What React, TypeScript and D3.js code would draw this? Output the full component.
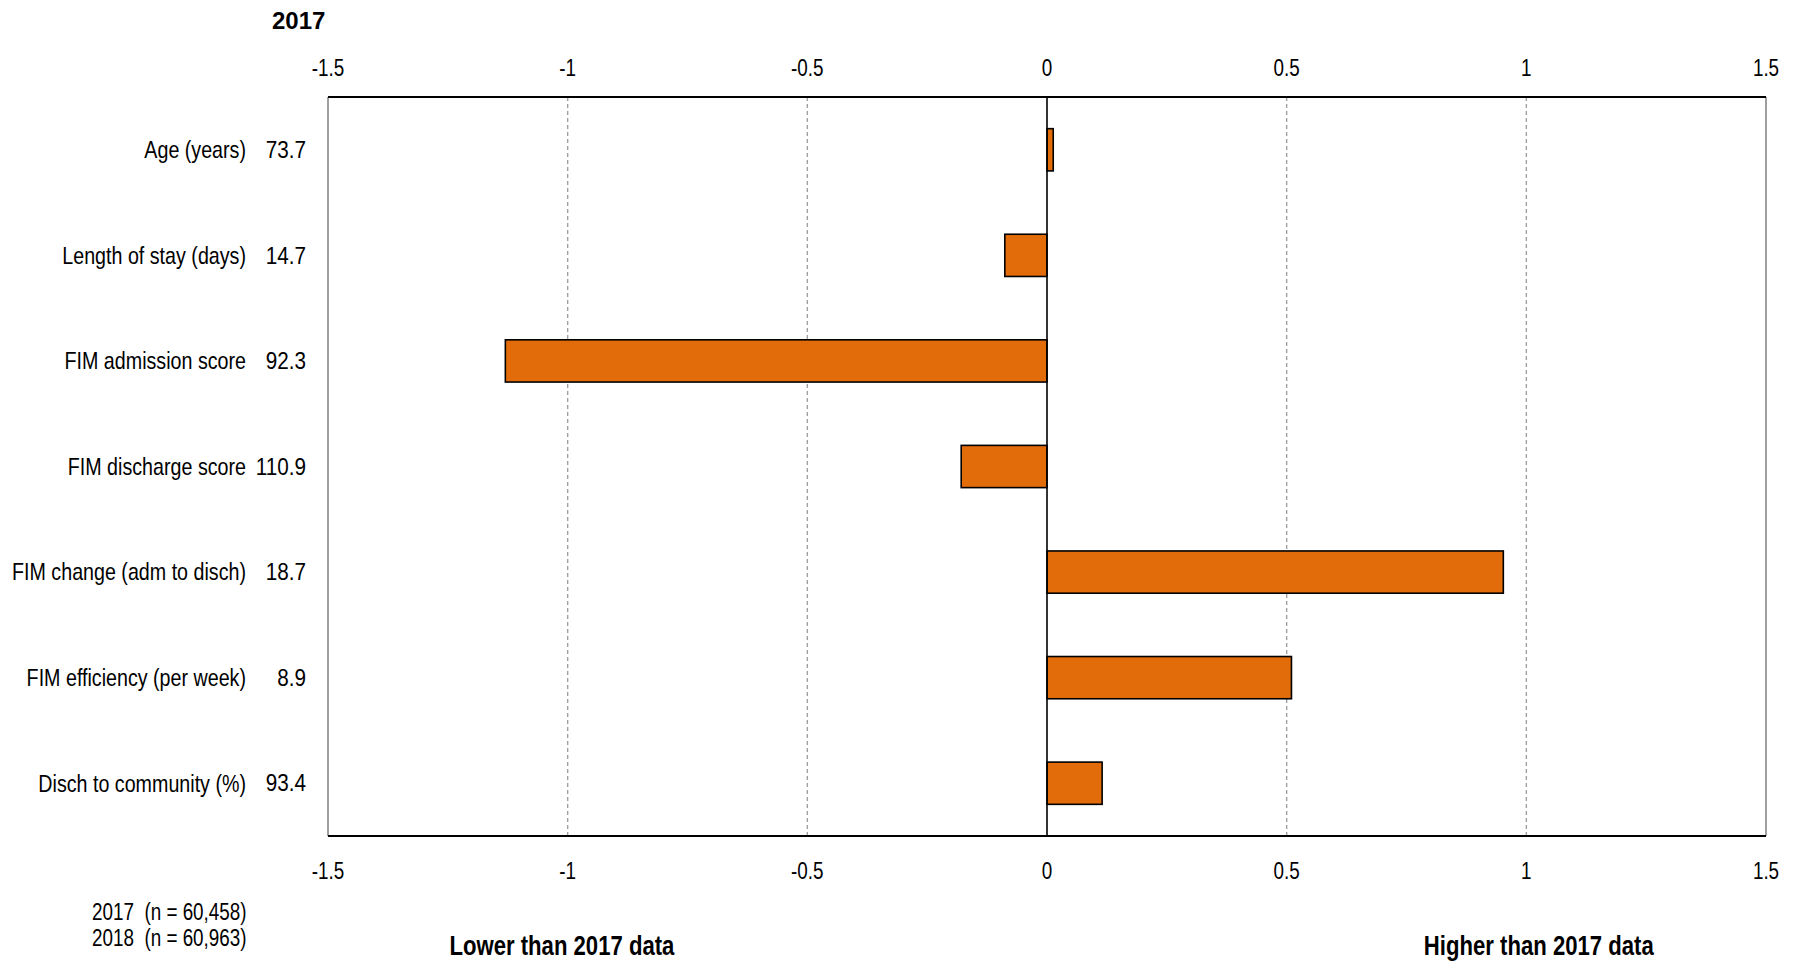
import React from "react";
import * as d3 from "d3";

const categories = [
  "Age (years)",
  "Length of stay (days)",
  "FIM admission score",
  "FIM discharge score",
  "FIM change (adm to disch)",
  "FIM efficiency (per week)",
  "Disch to community (%)",
];
const baseValues = ["73.7", "14.7", "92.3", "110.9", "18.7", "8.9", "93.4"];
const differences = [0.013, -0.088, -1.13, -0.179, 0.952, 0.51, 0.115];
const xTicks = [-1.5, -1, -0.5, 0, 0.5, 1, 1.5];
const sampleNotes = ["2017\u00A0\u00A0(n = 60,458)", "2018\u00A0\u00A0(n = 60,963)"];

const W = 1806;
const H = 966;
const left = 328;
const right = 1766;
const top = 97;
const bottom = 836;
const font = "'Liberation Sans', Arial, sans-serif";
const SX = 0.82;

function NText(props: {
  x: number; y: number; size: number; anchor?: string; bold?: boolean; dy?: string; children: React.ReactNode; sx?: number;
}) {
  const { x, y, size, anchor = "start", bold = false, dy, children, sx = SX } = props;
  return (
    <text transform={`translate(${x},${y}) scale(${sx},1)`} dy={dy} textAnchor={anchor}
      fontFamily={font} fontWeight={bold ? "bold" : "normal"} fontSize={size} fill="#000">
      {children}
    </text>
  );
}

export default function App() {
  const x = d3.scaleLinear().domain([-1.5, 1.5]).range([left, right]);
  const y = d3.scaleBand<string>().domain(categories).range([top, bottom]).paddingInner(0.6).paddingOuter(0.3);
  const band = d3.scaleBand<string>().domain(categories).range([top, bottom]);
  const fmt = (v: number) => String(v);

  return (
    <svg width={W} height={H} style={{ position: "absolute", left: 0, top: 0, background: "#fff" }}>
      <text x={272} y={29} fontFamily={font} fontWeight="bold" fontSize={24} fill="#000">2017</text>

      {/* gridlines */}
      {xTicks.filter((t) => t !== 0 && Math.abs(t) !== 1.5).map((t) => (
        <line key={"g" + t} x1={x(t)} x2={x(t)} y1={top} y2={bottom} stroke="#a0a0a0" strokeWidth={1.4} strokeDasharray="4,3" />
      ))}

      {/* bars */}
      {categories.map((c, i) => {
        const v = differences[i];
        return (
          <rect key={c} x={Math.min(x(0), x(v))} width={Math.abs(x(v) - x(0))} y={y(c)} height={y.bandwidth()}
            fill="#E36C0A" stroke="#000" strokeWidth={1.6} />
        );
      })}

      {/* zero line */}
      <line x1={x(0)} x2={x(0)} y1={top} y2={bottom} stroke="#000" strokeWidth={1.6} />

      {/* frame */}
      <line x1={left} x2={left} y1={top} y2={bottom} stroke="#888" strokeWidth={1.6} />
      <line x1={right} x2={right} y1={top} y2={bottom} stroke="#888" strokeWidth={1.6} />
      <line x1={left} x2={right} y1={top} y2={top} stroke="#000" strokeWidth={2} />
      <line x1={left} x2={right} y1={bottom} y2={bottom} stroke="#000" strokeWidth={2} />

      {/* tick labels */}
      {xTicks.map((t) => (
        <g key={"t" + t}>
          <NText x={x(t)} y={76} size={23} anchor="middle">{fmt(t)}</NText>
          <NText x={x(t)} y={879} size={23} anchor="middle">{fmt(t)}</NText>
        </g>
      ))}

      {/* category labels */}
      {categories.map((c, i) => {
        const cy = (band(c) as number) + band.bandwidth() / 2;
        return (
          <g key={"l" + c}>
            <NText x={246} y={cy} dy="0.35em" size={24} anchor="end">{c}</NText>
            <NText x={306} y={cy} dy="0.35em" size={23.5} anchor="end" sx={0.88}>{baseValues[i]}</NText>
          </g>
        );
      })}

      {/* notes */}
      {sampleNotes.map((n, i) => (
        <NText key={n} x={92} y={920 + i * 26} size={23}>{n}</NText>
      ))}

      <NText x={x(-1.012)} y={955} size={27} bold anchor="middle">Lower than 2017 data</NText>
      <NText x={x(1.026)} y={955} size={27} bold anchor="middle">Higher than 2017 data</NText>
    </svg>
  );
}
